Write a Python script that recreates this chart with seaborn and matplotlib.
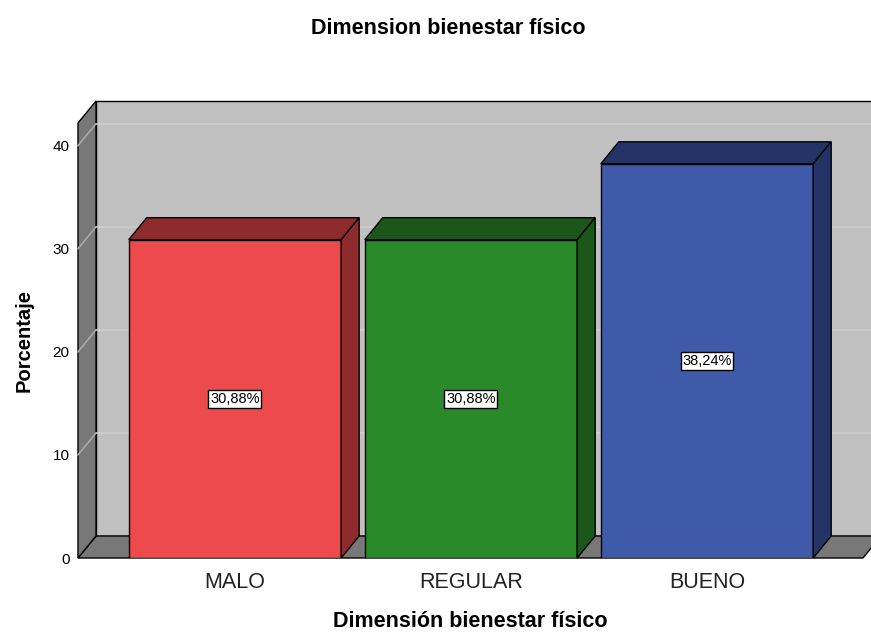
import numpy as np
import seaborn as sns
import matplotlib
matplotlib.use('Agg')
import matplotlib.pyplot as plt
from matplotlib.patches import Polygon
from matplotlib.transforms import IdentityTransform

categorias = ['MALO', 'REGULAR', 'BUENO']
porcentajes = [30.88, 30.88, 38.24]
colores_frente = ['#ec4a4c', '#2a8a2a', '#3f5aa8']
colores_sombra = ['#8e2b2c', '#1b561b', '#253466']
yticks = [0, 10, 20, 30, 40]

sns.set_style('white')
plt.rcParams['font.family'] = ['Liberation Sans', 'DejaVu Sans']
plt.rcParams['text.color'] = 'black'
plt.rcParams['axes.labelcolor'] = 'black'

fig = plt.figure(figsize=(8.71, 6.34), dpi=100)
ax = fig.add_axes([78/871, 76/634, 785/871, 435/634])

sns.barplot(x=categorias, y=porcentajes, hue=categorias, palette=colores_frente,
            legend=False, width=0.9, saturation=1, edgecolor='black',
            linewidth=1, ax=ax, zorder=3)

ax.set_xlim(-0.665, 2.661)
ax.set_ylim(0, 42.2)
for s in ax.spines.values():
    s.set_visible(False)
ax.patch.set_visible(False)

# profundidad en pixeles
dx, dy = 18, 22
ident = IdentityTransform()


def px(x, y, d=0):
    X, Y = ax.transData.transform((x, y))
    return (X + d*dx, Y + d*dy)


def cara(puntos, color, z, lw=1):
    p = Polygon(puntos, closed=True, facecolor=color, edgecolor='black',
                linewidth=lw, transform=ident, clip_on=False, zorder=z)
    ax.add_patch(p)


x0, x1 = ax.get_xlim()
y0, y1 = ax.get_ylim()

# pared del fondo, piso y pared izquierda
cara([px(x0, y0, 1), px(x1, y0, 1), px(x1, y1, 1), px(x0, y1, 1)], '#c0c0c0', 0.1)
cara([px(x0, y0), px(x1, y0), px(x1, y0, 1), px(x0, y0, 1)], '#787878', 0.2)
cara([px(x0, y0), px(x0, y1), px(x0, y1, 1), px(x0, y0, 1)], '#787878', 0.2)

for t in yticks[1:]:
    a, b = px(x0, t, 1), px(x1, t, 1)
    ax.add_line(plt.Line2D([a[0], b[0]], [a[1], b[1]], color='#cecece', lw=1.2,
                           transform=ident, clip_on=False, zorder=0.3))
    c = px(x0, t)
    ax.add_line(plt.Line2D([c[0], a[0]], [c[1], a[1]], color='#a8a8a8', lw=1.2,
                           transform=ident, clip_on=False, zorder=0.3))

# caras 3D de las barras
for p, col in zip(ax.patches[:len(categorias)], colores_sombra):
    bx, bw, bh = p.get_x(), p.get_width(), p.get_height()
    cara([px(bx, bh), px(bx + bw, bh), px(bx + bw, bh, 1), px(bx, bh, 1)], col, 4)
    cara([px(bx + bw, 0), px(bx + bw, bh), px(bx + bw, bh, 1), px(bx + bw, 0, 1)], col, 4)

for i, v in enumerate(porcentajes):
    ax.text(i, v/2, f'{v:.2f}%'.replace('.', ','), ha='center', va='center',
            fontsize=10.5, color='black', zorder=6,
            bbox=dict(boxstyle='square,pad=0.12', fc='white', ec='black', lw=1))

ax.set_yticks(yticks)
ax.tick_params(axis='y', length=0, pad=6, labelsize=11, labelcolor='black')
ax.tick_params(axis='x', length=0, pad=10, labelsize=15.5, labelcolor='#222222')

ax.set_xlabel('Dimensión bienestar físico', fontsize=15.5, fontweight='bold', labelpad=13)
ax.set_ylabel('Porcentaje', fontsize=14.5, fontweight='bold', labelpad=14)
fig.text(448/871, 1 - 28/634, 'Dimension bienestar físico', ha='center', va='center',
         fontsize=15.5, fontweight='bold')

fig.savefig('out.png', dpi=100)
